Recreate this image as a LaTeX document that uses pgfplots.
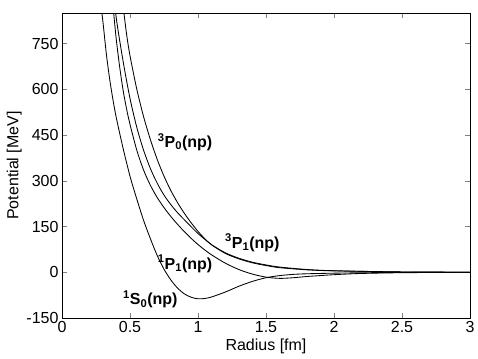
\documentclass[border=0pt]{standalone}
\usepackage{fontspec}
\setmainfont{Liberation Sans}
\usepackage{pgfplots}
\pgfplotsset{compat=1.18}

\begin{document}
\begin{tikzpicture}
\begin{axis}[
    scale only axis,
    width=408pt, height=305pt,
    xmin=0, xmax=3, ymin=-150, ymax=850,
    xtick={0,0.5,...,3}, ytick={-150,0,150,300,450,600,750},
    xticklabels={0,0.5,1,1.5,2,2.5,3},
    tick align=inside, tick pos=both,
    major tick length=5pt,
    ticklabel style={font=\fontsize{16}{18}\selectfont},
    /pgf/number format/assume math mode=true,
    xlabel={Radius [fm]}, ylabel={Potential [MeV]},
    label style={font=\fontsize{16}{18}\selectfont},
    xlabel style={yshift=1pt},
    ylabel style={yshift=-2pt},
    cycle list={{black}},
    every axis plot post/.append style={black, line width=0.85pt, smooth, mark=none},
    axis line style={line width=0.7pt},
]
% 1S0
\addplot coordinates {
    (0.27,930) (0.30,825) (0.325,720) (0.35,635) (0.375,565) (0.40,505)
    (0.45,405) (0.50,315) (0.55,240) (0.60,170) (0.65,110) (0.70,55)
    (0.75,10) (0.80,-25) (0.85,-52) (0.90,-71) (0.95,-82) (1.00,-87)
    (1.05,-86) (1.10,-81) (1.20,-65) (1.30,-46) (1.40,-30) (1.50,-18)
    (1.60,-11) (1.70,-7) (1.80,-5) (2.00,-3) (2.25,-1.5) (2.50,-0.7) (3.00,0)
};
% 1P1
\addplot coordinates {
    (0.36,950) (0.38,850) (0.40,760) (0.425,670) (0.45,595) (0.475,535)
    (0.50,485) (0.55,400) (0.60,335) (0.65,285) (0.70,245) (0.75,212)
    (0.80,183) (0.85,157) (0.90,133) (0.95,111) (1.00,91) (1.05,73)
    (1.10,57) (1.20,30) (1.30,9) (1.40,-6) (1.50,-16) (1.60,-20)
    (1.70,-18) (1.80,-14) (2.00,-8) (2.20,-4) (2.50,-1.5) (3.00,0)
};
% 3P1
\addplot coordinates {
    (0.38,920) (0.40,830) (0.45,690) (0.50,570) (0.55,475) (0.60,400)
    (0.65,340) (0.70,292) (0.75,253) (0.80,222) (0.85,195) (0.90,172)
    (0.95,149) (1.00,127) (1.05,108) (1.10,90) (1.20,64) (1.30,46)
    (1.40,33) (1.50,24) (1.60,17) (1.80,9) (2.00,5) (2.50,1) (3.00,0)
};
% 3P0
\addplot coordinates {
    (0.44,910) (0.45,870) (0.475,780) (0.50,710) (0.55,600) (0.60,510)
    (0.65,435) (0.70,370) (0.75,315) (0.80,268) (0.85,228) (0.90,193)
    (0.95,162) (1.00,134) (1.05,110) (1.10,90) (1.20,62) (1.30,44)
    (1.40,31) (1.50,22) (1.60,15) (1.80,8) (2.00,4.5) (2.50,1) (3.00,0)
};
\node[font=\fontsize{16}{18}\selectfont\bfseries] at (axis cs:0.905,427) {$^{\mathbf{3}}$P$_{\mathbf{0}}$(np)};
\node[font=\fontsize{16}{18}\selectfont\bfseries] at (axis cs:1.40,97) {$^{\mathbf{3}}$P$_{\mathbf{1}}$(np)};
\node[font=\fontsize{16}{18}\selectfont\bfseries] at (axis cs:0.905,28) {$^{\mathbf{1}}$P$_{\mathbf{1}}$(np)};
\node[font=\fontsize{16}{18}\selectfont\bfseries] at (axis cs:0.65,-89) {$^{\mathbf{1}}$S$_{\mathbf{0}}$(np)};
\end{axis}
\path ([shift={(-62pt,-40pt)}]current axis.south west) rectangle ([shift={(8pt,13pt)}]current axis.north east);
\end{tikzpicture}
\end{document}
